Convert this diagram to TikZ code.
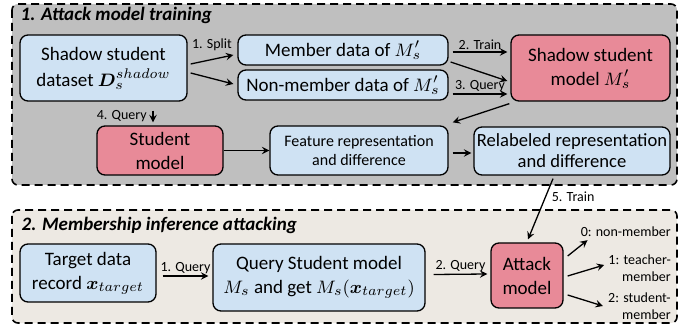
\documentclass[tikz,border=0pt]{standalone}
\usepackage{amsmath}
\usepackage{bm}
\usepackage{fontspec}
\setmainfont{Carlito}
\usetikzlibrary{calc}
\definecolor{panelgray}{HTML}{BFBFBF}
\definecolor{panelpaper}{HTML}{EDE9E3}
\definecolor{boxblue}{HTML}{CFE2F3}
\definecolor{boxrose}{HTML}{E88A98}
\begin{document}
\begin{tikzpicture}[>=stealth, x=0.5pt, y=-0.5pt, line width=0.65pt]
    \tikzset{box/.style={draw, rounded corners=4pt, align=center, inner sep=1pt, font=\fontsize{9.5}{12}\selectfont},
             panel/.style={draw, dashed, dash pattern=on 4pt off 2.5pt, line width=0.8pt, rounded corners=3pt},
             lbl/.style={font=\fontsize{7}{8}\selectfont, inner sep=0.8pt},
             title/.style={anchor=west, inner sep=0pt, font=\fontsize{9.5}{11}\selectfont\bfseries\itshape}}
    \useasboundingbox (0,0) rectangle (699,330);
    % panels
    \draw[panel, fill=panelgray] (12,4) rectangle (677,185);
    \draw[panel, fill=panelpaper] (12,210) rectangle (677,323);
    \node[title] (ttrain) at (20,15) {1. Attack model training};
    \node[title] (tattack) at (21,225) {2. Membership inference attacking};
    % attack model training
    \node[box, fill=boxblue, minimum width=83.5pt, minimum height=33pt] (data) at (103.5,68) {Shadow student\\[1pt]dataset $\bm{D}_s^{shadow}$};
    \node[box, fill=boxblue, minimum width=105pt, minimum height=15pt] (member) at (343,50) {Member data of $M_s'$};
    \node[box, fill=boxblue, minimum width=105pt, minimum height=15pt] (nonmem) at (343,85) {Non-member data of $M_s'$};
    \node[box, fill=boxrose, minimum width=79.5pt, minimum height=33pt] (shadow) at (590.5,68) {Shadow student\\model $M_s'$};
    \node[box, fill=boxrose, minimum width=63pt, minimum height=24.5pt] (student) at (160,150.5) {Student\\model};
    \node[box, fill=boxblue, minimum width=89pt, minimum height=24.5pt, font=\fontsize{8}{9.5}\selectfont] (feature) at (359,150.5) {Feature representation\\and difference};
    \node[box, fill=boxblue, minimum width=98pt, minimum height=24pt, font=\fontsize{9.3}{10.5}\selectfont] (relabel) at (572,151) {Relabeled representation\\and difference};
    \draw[->] ($(data.east)+(3,-4)$) -- ($(member.west)+(-4,5)$) node[lbl, midway, above=3pt] {1. Split};
    \draw[->] ($(data.east)+(3,5)$) -- ($(nonmem.west)+(-4,-1)$);
    \draw[->] ($(member.east)+(4,2)$) -- ($(shadow.west)+(-3,-16)$) node[lbl, midway, above] {2. Train};
    \draw[->] ($(member.east)+(2,12)$) -- ($(shadow.west)+(-3,13)$);
    \draw[->] ($(nonmem.east)+(4,9)$) -- ($(shadow.west)+(-3,26)$) node[lbl, midway, above] {3. Query};
    \draw[->] ($(shadow.south west)+(-1,2)$) -- ($(feature.north east)+(4,-3)$);
    \draw[->] ($(data.south)+(49.5,9)$) -- ($(student.north)+(-7,-3)$) node[lbl, midway, left=2pt] {4. Query};
    \draw[->] (student) -- (feature);
    \draw[->] ($(feature.east)+(4,2.5)$) -- ($(relabel.west)+(-2,2)$);
    % membership inference attacking
    \node[box, fill=boxblue, minimum width=68pt, minimum height=29pt] (target) at (88,273) {Target data\\record $\bm{x}_{target}$};
    \node[box, fill=boxblue, minimum width=106pt, minimum height=33.5pt] (query) at (319,277.5) {Query Student model\\$M_s$ and get $M_s(\bm{x}_{target})$};
    \node[box, fill=boxrose, minimum width=36pt, minimum height=32.5pt] (attack) at (527,275.5) {Attack\\model};
    \node[lbl, anchor=east, align=right, font=\fontsize{7}{8.5}\selectfont] (out0) at (673,232) {0: non-member};
    \node[lbl, anchor=east, align=right, font=\fontsize{7}{8.5}\selectfont] (out1) at (673,268) {1: teacher-\\member};
    \node[lbl, anchor=east, align=right, font=\fontsize{7}{8.5}\selectfont] (out2) at (673,306) {2: student-\\member};
    \draw[->] ($(relabel.south)+(-19,3)$) -- ($(attack.north)+(1,-3)$) node[lbl, pos=0.3, right=2pt] {5. Train};
    \draw[->] ($(target.east)+(6,3)$) -- ($(query.west)+(-4,-1.5)$) node[lbl, midway, above] {1. Query};
    \draw[->] ($(query.east)+(8,-3)$) -- ($(attack.west)+(-3,-1.5)$) node[lbl, midway, above] {2. Query};
    \draw[->] ($(attack.east)+(4,-19.5)$) -- ($(out0.south west)+(9,1)$);
    \draw[->] ($(attack.east)+(4,0.5)$) -- ($(out1.west)+(-2,-3)$);
    \draw[->] ($(attack.east)+(4,19.5)$) -- ($(out2.west)+(-3,0)$);
\end{tikzpicture}
\end{document}
